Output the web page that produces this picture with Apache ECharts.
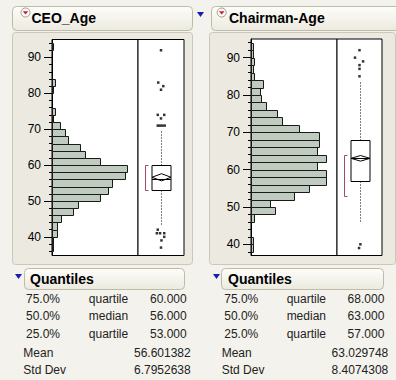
<!DOCTYPE html>
<html><head><meta charset="utf-8">
<script src="https://cdn.jsdelivr.net/npm/echarts@6/dist/echarts.min.js"></script>
<style>html,body{margin:0;padding:0;background:#F3F2EC}#c{width:396px;height:380px}</style>
</head><body><div id="c"></div>
<script>
// ---------- DATA ----------
const binWidth = 2;
const binStarts = [36,38,40,42,44,46,48,50,52,54,56,58,60,62,64,66,68,70,72,74,76,78,80,82,84,86,88,90,92];
const ceoCounts   = [1,1,4,4,7,17,21,38,45,48,58,60,38,26,22,13,10,6,1,2,0,0,1,2,0,0,0,0,1];
const chairCounts = [0,1,1,0,0,2,14,11,25,34,44,44,39,44,39,40,40,28,18,15,9,6,5,7,2,1,2,1,1];
const yTickLabels = [40,50,60,70,80,90];
const yMinorTicks = [36,38,40,42,44,46,48,50,52,54,56,58,60,62,64,66,68,70,72,74,76,78,80,82,84,86,88,90,92,94];
// box: [whiskerLow, Q1, median, Q3, whiskerHigh]
const ceoBox = [43, 53, 56, 60, 70];
const chairBox = [46, 57, 63, 68, 84];
// [mean, 95% CI half-width]
const ceoMeanCI = [56.601382, 1.0];
const chairMeanCI = [63.029748, 0.75];
// shortest half [low, high]
const ceoShortest = [53, 60];
const chairShortest = [53, 64];
const ceoOutlierValues = [92,83,82,81,74,74,73,71,71,71,71,42,41,41,41,40,39,37];
const ceoOutlierJitter = [0.5,0.44,0.55,0.5,0.43,0.57,0.5,0.43,0.48,0.53,0.58,0.43,0.41,0.48,0.57,0.57,0.51,0.5];
const chairOutlierValues = [92,90,89,88,87,85,40,39];
const chairOutlierJitter = [0.5,0.4,0.58,0.5,0.5,0.5,0.52,0.49];
const titles = ['CEO_Age', 'Chairman-Age'];
const quantileLevels = ['75.0%','50.0%','25.0%'];
const quantileNames = ['quartile','median','quartile'];
const ceoQuantiles = [60, 56, 53];
const chairQuantiles = [68, 63, 57];
const momentNames = ['Mean','Std Dev'];
const ceoMoments = ['56.601382','6.7952638'];
const chairMoments = ['63.029748','8.4074308'];

// ---------- RENDER ----------
const FONT = '"Liberation Sans", Arial, sans-serif';
const chart = echarts.init(document.getElementById('c'), null, {renderer:'svg'});

function histData(counts){
  return binStarts.map((s,i)=>[s, s+binWidth, counts[i]]).filter(d=>d[2]>0);
}
function histRender(params, api){
  const a = api.coord([0, api.value(1)]);
  const b = api.coord([api.value(2), api.value(0)]);
  const x0 = Math.round(a[0]), y0 = Math.round(a[1]);
  const x1 = Math.round(b[0]), y1 = Math.round(b[1]);
  return {type:'rect', shape:{x:x0+0.5, y:y0+0.5, width:Math.max(x1-x0,1), height:y1-y0},
    style:{fill:'#C0CBBF', stroke:'#1a1a1a', lineWidth:1}};
}
const boxCenter = 0.5, bracketX = 0.16, boxHalf = 9.5;
function boxRender(params, api){
  const cx = Math.round(api.coord([boxCenter, 60])[0]) + 0.5;
  const Y = v => Math.round(api.coord([boxCenter, v])[1]) + 0.5;
  const yLow=Y(api.value(0)), yQ1=Y(api.value(1)), yMed=Y(api.value(2)), yQ3=Y(api.value(3)), yHigh=Y(api.value(4));
  const mean = api.value(5), ci = api.value(6);
  const yMean = api.coord([0, mean])[1], yTop = api.coord([0, mean+ci])[1], yBot = api.coord([0, mean-ci])[1];
  const bx = Math.round(api.coord([bracketX, 60])[0]) + 0.5;
  const ySl = Y(api.value(7)), ySh = Y(api.value(8));
  const dash = {stroke:'#000', lineWidth:1, lineDash:[1,2]};
  return {type:'group', children:[
    {type:'line', shape:{x1:cx,y1:yQ3,x2:cx,y2:yHigh}, style:dash},
    {type:'line', shape:{x1:cx,y1:yQ1,x2:cx,y2:yLow}, style:dash},
    {type:'rect', shape:{x:cx-boxHalf, y:yQ3, width:2*boxHalf, height:yQ1-yQ3}, style:{fill:'#fff', stroke:'#000', lineWidth:1}},
    {type:'line', shape:{x1:cx-boxHalf,y1:yMed,x2:cx+boxHalf,y2:yMed}, style:{stroke:'#000', lineWidth:1}},
    {type:'polygon', shape:{points:[[cx-boxHalf,yMean],[cx,yTop],[cx+boxHalf,yMean],[cx,yBot]]}, style:{fill:'none', stroke:'#000', lineWidth:1}},
    {type:'polyline', shape:{points:[[bx+3,ySh],[bx,ySh],[bx,ySl],[bx+3,ySl]]}, style:{fill:'none', stroke:'#A34A5C', lineWidth:1}}
  ]};
}

const ranges = [[34.8, 95], [37, 95]];
const grids = [
  {left:52, top:39.5, width:86, height:216},
  {left:138, top:39.5, width:46, height:216},
  {left:251, top:39, width:86, height:216.5},
  {left:337, top:39, width:45, height:216.5}
].map(g => Object.assign({show:true, backgroundColor:'#fff', borderColor:'#000', borderWidth:1, containLabel:false}, g));

const xMax = [86/1.25, 1, 86/1.7, 1];
const xAxes = xMax.map((m,i)=>({type:'value', gridIndex:i, min:0, max:m, show:false}));

function labelAxis(gi, r){
  return {type:'value', gridIndex:gi, position:'left', min:r[0], max:r[1],
    axisLine:{show:true, lineStyle:{color:'#000', width:1}},
    axisTick:{show:true, length:8, customValues:yTickLabels, lineStyle:{color:'#000'}},
    axisLabel:{show:true, customValues:yTickLabels, margin:11, fontFamily:FONT, fontSize:12, color:'#000'},
    splitLine:{show:false}};
}
function minorAxis(gi, r){
  return {type:'value', gridIndex:gi, position:'left', min:r[0], max:r[1],
    axisLine:{show:false},
    axisTick:{show:true, length:3, customValues:yMinorTicks.filter(v=>v>r[0]&&v<r[1]), lineStyle:{color:'#000'}},
    axisLabel:{show:false}, splitLine:{show:false}};
}
function hiddenAxis(gi, r){
  return {type:'value', gridIndex:gi, min:r[0], max:r[1], show:false};
}
const yAxes = [labelAxis(0,ranges[0]), minorAxis(0,ranges[0]), hiddenAxis(1,ranges[0]),
               labelAxis(2,ranges[1]), minorAxis(2,ranges[1]), hiddenAxis(3,ranges[1])];

function outlierData(vals, jit){ return vals.map((v,i)=>[jit[i], v]); }

const series = [
  {type:'custom', xAxisIndex:0, yAxisIndex:0, data:histData(ceoCounts), encode:{x:2, y:[0,1]}, renderItem:histRender, silent:true},
  {type:'custom', xAxisIndex:1, yAxisIndex:2, data:[[...ceoBox, ...ceoMeanCI, ...ceoShortest]], encode:{y:[0,4]}, renderItem:boxRender, silent:true},
  {type:'scatter', xAxisIndex:1, yAxisIndex:2, data:outlierData(ceoOutlierValues, ceoOutlierJitter), symbol:'rect', symbolSize:2.5, itemStyle:{color:'#000'}, silent:true},
  {type:'custom', xAxisIndex:2, yAxisIndex:3, data:histData(chairCounts), encode:{x:2, y:[0,1]}, renderItem:histRender, silent:true},
  {type:'custom', xAxisIndex:3, yAxisIndex:5, data:[[...chairBox, ...chairMeanCI, ...chairShortest]], encode:{y:[0,4]}, renderItem:boxRender, silent:true},
  {type:'scatter', xAxisIndex:3, yAxisIndex:5, data:outlierData(chairOutlierValues, chairOutlierJitter), symbol:'rect', symbolSize:2.5, itemStyle:{color:'#000'}, silent:true}
];

// ---------- decoration ----------
const headFill = new echarts.graphic.LinearGradient(0,0,0,1,[{offset:0,color:'#FDFDFA'},{offset:1,color:'#ECEADF'}]);
function headBox(x,y,w,h){ return {type:'rect', z:-5, shape:{x:x+0.5,y:y+0.5,width:w,height:h,r:4}, style:{fill:headFill, stroke:'#BEBBA9', lineWidth:1}, silent:true}; }
function panelBox(x,y,w,h){ return {type:'rect', z:-8, shape:{x:x+0.5,y:y+0.5,width:w,height:h,r:3}, style:{fill:'#ECEAE0', stroke:'#CBC8B8', lineWidth:1}, silent:true}; }
function txt(x,y,t,opt){ return Object.assign({type:'text', x:x, y:y, z:5, silent:true,
  style:Object.assign({text:t, fontFamily:FONT, fontSize:12, fill:'#222', align:'left', verticalAlign:'middle'}, (opt||{}))}); }
function redIcon(cx,cy){ return [
  {type:'circle', z:5, shape:{cx:cx,cy:cy,r:4.5}, style:{fill:'#FAFAFA', stroke:'#9C9A90', lineWidth:1}, silent:true},
  {type:'polygon', z:6, shape:{points:[[cx-2.8,cy-1.3],[cx+2.8,cy-1.3],[cx,cy+2]]}, style:{fill:'#D22020'}, silent:true}
]; }
function blueTri(x,y){ return {type:'polygon', z:6, shape:{points:[[x,y],[x+7,y],[x+3.5,y+5]]}, style:{fill:'#1C1CB0'}, silent:true}; }

const g = [];
// panel boxes
g.push(panelBox(12,32,180,232));
g.push(panelBox(209,32,186,232));
// title boxes
g.push(headBox(12,6,180,24));
g.push(headBox(211,6,190,24));
g.push(...redIcon(25.5,12.5));
g.push(...redIcon(221.7,12.5));
g.push(blueTri(197,12));
g.push(txt(31.5,18,titles[0],{fontSize:14, fontWeight:'bold', fill:'#000'}));
g.push(txt(229,18,titles[1],{fontSize:14, fontWeight:'bold', fill:'#000'}));
// quantile headers
g.push(headBox(24,268,160,21));
g.push(headBox(221,268,162,21));
g.push(blueTri(15,274));
g.push(blueTri(213,274));
g.push(txt(30,279,'Quantiles',{fontSize:14, fontWeight:'bold', fill:'#000'}));
g.push(txt(228,279,'Quantiles',{fontSize:14, fontWeight:'bold', fill:'#000'}));
// tables
const rowY = [298.5, 316, 333.5];
const cols = [
  {pct:60, name:108.5, val:186.7, mLeft:23.3, mRight:190.7, q:ceoQuantiles, m:ceoMoments},
  {pct:258.3, name:306.3, val:384.3, mLeft:221.7, mRight:388.3, q:chairQuantiles, m:chairMoments}
];
cols.forEach(c=>{
  quantileLevels.forEach((lv,i)=>{
    g.push(txt(c.pct, rowY[i], lv, {align:'right'}));
    g.push(txt(c.name, rowY[i], quantileNames[i], {align:'center'}));
    g.push(txt(c.val, rowY[i], c.q[i].toFixed(3), {align:'right'}));
  });
  momentNames.forEach((n,i)=>{
    const yy = [352.5, 370][i];
    g.push(txt(c.mLeft, yy, n));
    g.push(txt(c.mRight, yy, c.m[i], {align:'right'}));
  });
});

chart.setOption({
  backgroundColor:'#F3F2EC',
  animation:false,
  grid:grids, xAxis:xAxes, yAxis:yAxes, series:series,
  graphic:{elements:g}
});
</script></body></html>
